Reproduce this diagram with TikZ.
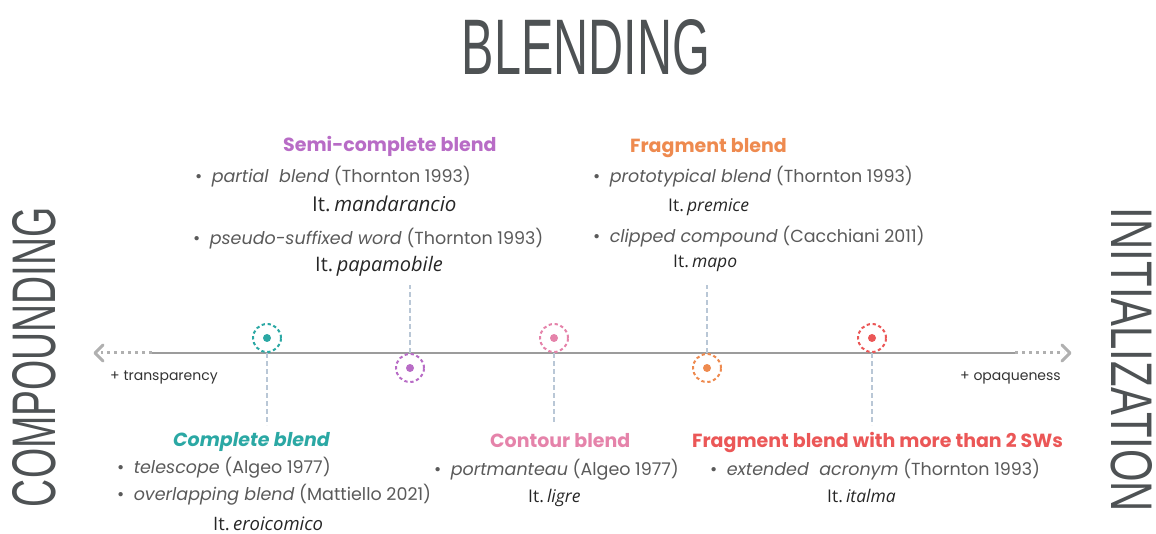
\documentclass[tikz,border=0pt]{standalone}
\usepackage{fontspec}
\setmainfont{Poppins}
\newfontfamily\itfont{Open Sans}
\newfontfamily\titlefont{Liberation Sans}
\definecolor{txtgray}{HTML}{5A5A5A}
\definecolor{titlegray}{HTML}{4E5254}
\definecolor{axisgray}{HTML}{9C9C9C}
\definecolor{conn}{HTML}{B9C7D6}
\definecolor{cteal}{HTML}{2BA8A4}
\definecolor{cpurple}{HTML}{B86CC6}
\definecolor{cpink}{HTML}{E583AA}
\definecolor{corange}{HTML}{EE8A4F}
\definecolor{cred}{HTML}{EB5757}
\newcommand{\itl}{It.\hspace{0.18em}}
\tikzset{
  body/.style={anchor=base west, inner sep=0pt, text=txtgray, font=\fontsize{17.5}{20}\selectfont},
  ex/.style={anchor=base west, inner sep=0pt, text=black!85, font=\itfont\fontsize{#1}{20}\selectfont},
  ex/.default=17.5,
  head/.style={anchor=base west, inner sep=0pt, font=\bfseries\fontsize{19}{22}\selectfont},
  small/.style={anchor=base west, inner sep=0pt, text=black!80, font=\fontsize{14}{16}\selectfont},
  marker/.style={circle, draw=#1, line width=2pt, dash pattern=on 3.3pt off 2.7pt, minimum size=28pt, inner sep=0pt,
    path picture={\fill[#1] (path picture bounding box.center) circle (4pt);}},
  connector/.style={draw=conn, line width=1.6pt, dash pattern=on 5pt off 3pt},
}
\begin{document}
\begin{tikzpicture}[x=1pt,y=-1pt]
\useasboundingbox (0,0) rectangle (1156,534);
% titles
\node[anchor=base, inner sep=0pt, text=titlegray] (title) at (586,75) {\resizebox{248pt}{55pt}{\titlefont BLENDING}};
\node[anchor=base, inner sep=0pt, text=titlegray, rotate=90] (comp) at (55,357) {\resizebox{300pt}{43pt}{\titlefont COMPOUNDING}};
\node[anchor=base, inner sep=0pt, text=titlegray, rotate=-90] (init) at (1111,360) {\resizebox{304pt}{41pt}{\titlefont INITIALIZATION}};
% axis
\coordinate (lt) at (95,353);
\coordinate (ld) at (152,353);
\coordinate (rd) at (1015,353);
\coordinate (rt) at (1070,353);
\draw[axisgray, line width=2.6pt] (ld) -- (rd);
\draw[axisgray!80, line width=3pt, dash pattern=on 3pt off 4pt] (ld) -- ([xshift=6pt]lt);
\draw[axisgray!80, line width=3pt, dash pattern=on 3pt off 4pt] (rd) -- ([xshift=-6pt]rt);
\draw[axisgray!80, line width=3pt, line cap=round, line join=round] ([xshift=8pt,yshift=-8pt]lt) -- (lt) -- ([xshift=8pt,yshift=8pt]lt);
\draw[axisgray!80, line width=3pt, line cap=round, line join=round] ([xshift=-8pt,yshift=-8pt]rt) -- (rt) -- ([xshift=-8pt,yshift=8pt]rt);
\node[small] (transp) at (110,381) {+ transparency};
\node[small] (opaq) at (960,381) {+ opaqueness};
% markers
\node[marker=cteal] (m1) at (267,338) {};
\node[marker=cpurple] (m2) at (410,368) {};
\node[marker=cpink] (m3) at (554,338) {};
\node[marker=corange] (m4) at (707,368) {};
\node[marker=cred] (m5) at (872,338) {};
\coordinate (e1) at (267,425);
\coordinate (e2) at (410,285);
\coordinate (e3) at (554,422);
\coordinate (e4) at (707,285);
\coordinate (e5) at (872,425);
\draw[connector] (m1.south) -- (e1);
\draw[connector] (m2.north) -- (e2);
\draw[connector] (m3.south) -- (e3);
\draw[connector] (m4.north) -- (e4);
\draw[connector] (m5.south) -- (e5);
% semi-complete
\node[head, text=cpurple] (h2) at (283,152) {Semi-complete blend};
\node[body] (b21) at (195,183) {\textbullet\ \ \textit{partial\ \ blend} (Thornton 1993)};
\node[ex=20.5] (x21) at (312,212) {\itl\textit{mandarancio}};
\node[body] (b22) at (193,245) {\textbullet\ \ \textit{pseudo-suffixed word} (Thornton 1993)};
\node[ex=20] (x22) at (315,272) {\itl\textit{papamobile}};
% fragment
\node[head, text=corange] (h4) at (630,153) {Fragment blend};
\node[body] (b41) at (593,183) {\textbullet\ \ \textit{prototypical blend} (Thornton 1993)};
\node[ex] (x41) at (668,212) {\itl\textit{premice}};
\node[body] (b42) at (593,243) {\textbullet\ \ \textit{clipped compound} (Cacchiani 2011)};
\node[ex] (x42) at (673,268) {\itl\textit{mapo}};
% complete
\node[head, text=cteal] (h1) at (173,446) {\textit{Complete blend}};
\node[body] (b11) at (117,473) {\textbullet\ \ \textit{telescope} (Algeo 1977)};
\node[body] (b12) at (117,500) {\textbullet\ \ \textit{overlapping blend} (Mattiello 2021)};
\node[ex=18.5] (x11) at (213,530) {\itl\textit{eroicomico}};
% contour
\node[head, text=cpink] (h3) at (490,447) {Contour blend};
\node[body] (b31) at (434,475) {\textbullet\ \ \textit{portmanteau} (Algeo 1977)};
\node[ex] (x31) at (528,502) {\itl\textit{ligre}};
% fragment 2+
\node[head, text=cred] (h5) at (692,447) {Fragment blend with more than 2 SWs};
\node[body] (b51) at (710,475) {\textbullet\ \ \textit{extended\ \ acronym} (Thornton 1993)};
\node[ex] (x51) at (827,502) {\itl\textit{italma}};
\end{tikzpicture}
\end{document}
